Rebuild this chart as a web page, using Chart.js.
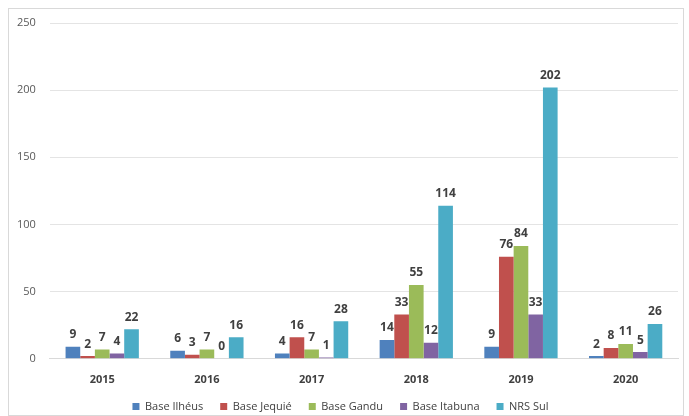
<!DOCTYPE html>
<html>
<head>
<meta charset="utf-8">
<script src="https://cdn.jsdelivr.net/npm/chart.js@4"></script>
<style>
  html, body { margin: 0; padding: 0; background: #fff; }
  #wrap { position: absolute; left: 8px; top: 8px; width: 676px; height: 408px; border: 1px solid #d9d9d9; box-sizing: border-box; }
  #chart { position: absolute; left: 0; top: 0; }
</style>
</head>
<body>
<div id="wrap"></div>
<canvas id="chart" width="689" height="416"></canvas>
<script>
'use strict';

let years = ['2015', '2016', '2017', '2018', '2019', '2020'];
let baseIlheus = [9, 6, 4, 14, 9, 2];
let baseJequie = [2, 3, 16, 33, 76, 8];
let baseGandu = [7, 7, 7, 55, 84, 11];
let baseItabuna = [4, 0, 1, 12, 33, 5];
let nrsSul = [22, 16, 28, 114, 202, 26];
let yTicks = [0, 50, 100, 150, 200, 250];

let fontFamily = "'Open Sans', 'Liberation Sans', sans-serif";

// draws the value above each bar
let valueLabels = {
  id: 'valueLabels',
  afterDatasetsDraw(chart) {
    let ctx = chart.ctx;
    ctx.save();
    ctx.font = 'bold 12px ' + fontFamily;
    ctx.fillStyle = '#404040';
    ctx.textAlign = 'center';
    ctx.textBaseline = 'bottom';
    chart.data.datasets.forEach((ds, i) => {
      chart.getDatasetMeta(i).data.forEach((bar, j) => {
        ctx.fillText(ds.data[j], bar.x, bar.y - 6);
      });
    });
    ctx.restore();
  }
};

function renderChart() {
  let data = {
    labels: years,
    datasets: [
      { label: 'Base Ilhéus', data: baseIlheus, backgroundColor: '#4f81bd' },
      { label: 'Base Jequié', data: baseJequie, backgroundColor: '#c0504d' },
      { label: 'Base Gandu', data: baseGandu, backgroundColor: '#9bbb59' },
      { label: 'Base Itabuna', data: baseItabuna, backgroundColor: '#8064a2' },
      { label: 'NRS Sul', data: nrsSul, backgroundColor: '#4bacc6' }
    ]
  };

  let config = {
    type: 'bar',
    data: data,
    options: {
      responsive: false,
      animation: false,
      categoryPercentage: 0.7,
      barPercentage: 1.0,
      layout: { padding: { left: 3, right: 11, top: 23, bottom: -6 } },
      plugins: {
        tooltip: { enabled: false },
        legend: {
          position: 'bottom',
          labels: {
            boxWidth: 7,
            boxHeight: 7,
            padding: 17,
            color: '#404040',
            font: { family: fontFamily, size: 11 }
          }
        }
      },
      scales: {
        x: {
          grid: { display: false },
          border: { display: true, color: '#d9d9d9' },
          ticks: { color: '#404040', font: { family: fontFamily, size: 11, weight: 'bold' }, padding: 6 },
          afterFit: axis => { axis.height -= 8; }
        },
        y: {
          min: 0,
          max: 250,
          afterBuildTicks: axis => { axis.ticks = yTicks.map(v => ({ value: v })); },
          grid: { color: '#e4e4e4', drawTicks: false },
          border: { display: false },
          ticks: { color: '#595959', font: { family: fontFamily, size: 11 }, padding: 14 }
        }
      }
    },
    plugins: [valueLabels]
  };

  new Chart(canvasElem, config);
}

let canvasElem = document.getElementById('chart');
renderChart();
</script>
</body>
</html>
